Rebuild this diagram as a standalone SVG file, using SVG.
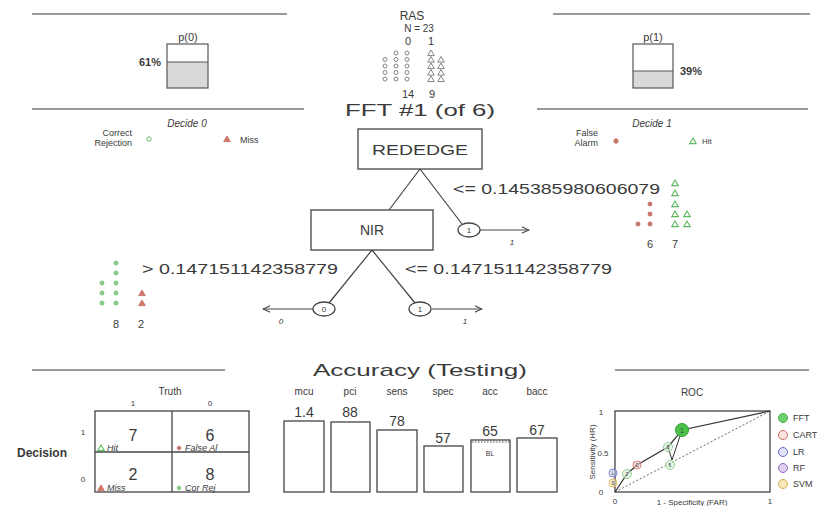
<svg xmlns="http://www.w3.org/2000/svg" width="832" height="506" viewBox="0 0 832 506">
<style>
text{font-family:"Liberation Sans",Arial,sans-serif;fill:#3a3a3a}
.rule{stroke:#777;stroke-width:1.5}
.box{fill:#fff;stroke:#444;stroke-width:1.3}
.edge{stroke:#444;stroke-width:1.2;fill:none}
.ras{fill:none;stroke:#777;stroke-width:0.9}
.g{fill:none;stroke:#6cbd6c;stroke-width:1}
.gf{fill:#8fd08f;stroke:#6cbd6c;stroke-width:0.8}
.rf{fill:#c9776e;stroke:#c0665c;stroke-width:0.8}
.rt{fill:#d8796c;stroke:#c0665c;stroke-width:0.8}
.gt{fill:none;stroke:#5cb85c;stroke-width:1.1}
.bar{fill:#fff;stroke:#444;stroke-width:1.3}
.s9{font-size:9px}
.s10{font-size:10px}
.s11{font-size:11px}
.it{font-style:italic}
</style>
<defs>
<path id="tri" d="M0,-3 L3.3,2.6 L-3.3,2.6 Z"/>
<circle id="dot" r="2"/>
<marker id="ah" viewBox="0 0 10 10" refX="9" refY="5" markerWidth="8" markerHeight="8" orient="auto" markerUnits="userSpaceOnUse">
<path d="M0,1 L9,5 L0,9" fill="none" stroke="#444" stroke-width="1.3"/>
</marker>
</defs>
<rect width="832" height="506" fill="#fff"/>

<!-- section rules -->
<g id="rules">
<line class="rule" x1="32" y1="14" x2="287" y2="14"/>
<line class="rule" x1="553" y1="14" x2="810" y2="14"/>
<line class="rule" x1="32" y1="109" x2="304" y2="109"/>
<line class="rule" x1="537" y1="109" x2="808" y2="109"/>
<line class="rule" x1="32" y1="370" x2="225" y2="370"/>
<line class="rule" x1="615" y1="370" x2="809" y2="370"/>
</g>

<!-- p(0) -->
<g id="p0">
<text x="188" y="41" text-anchor="middle" class="s11">p(0)</text>
<rect x="167" y="62" width="41" height="26" fill="#d9d9d9"/>
<rect x="167" y="44" width="41" height="44" fill="none" stroke="#555" stroke-width="1.2"/>
<line x1="167" y1="62" x2="208" y2="62" stroke="#555" stroke-width="1.2"/>
<text x="161" y="66" text-anchor="end" class="s11" font-weight="bold" fill="#555">61%</text>
</g>

<!-- p(1) -->
<g id="p1">
<text x="653" y="41" text-anchor="middle" class="s11">p(1)</text>
<rect x="633" y="71" width="40" height="17" fill="#d9d9d9"/>
<rect x="633" y="44" width="40" height="44" fill="none" stroke="#555" stroke-width="1.2"/>
<line x1="633" y1="71" x2="673" y2="71" stroke="#555" stroke-width="1.2"/>
<text x="680" y="75" class="s11" font-weight="bold" fill="#555">39%</text>
</g>

<!-- RAS -->
<g id="ras">
<text x="412" y="20" text-anchor="middle" font-size="12">RAS</text>
<text x="419" y="32" text-anchor="middle" class="s10" fill="#555">N = 23</text>
<text x="408" y="45" text-anchor="middle" class="s11" fill="#555">0</text>
<text x="431" y="45" text-anchor="middle" class="s11" fill="#555">1</text>
<g class="ras">
<use href="#dot" x="396" y="53"/><use href="#dot" x="407" y="53"/>
<use href="#dot" x="385" y="59.5"/><use href="#dot" x="396" y="59.5"/><use href="#dot" x="407" y="59.5"/>
<use href="#dot" x="385" y="66"/><use href="#dot" x="396" y="66"/><use href="#dot" x="407" y="66"/>
<use href="#dot" x="385" y="72.5"/><use href="#dot" x="396" y="72.5"/><use href="#dot" x="407" y="72.5"/>
<use href="#dot" x="385" y="79"/><use href="#dot" x="396" y="79"/><use href="#dot" x="407" y="79"/>
<use href="#tri" x="431" y="53"/>
<use href="#tri" x="431" y="59.5"/><use href="#tri" x="441" y="59.5"/>
<use href="#tri" x="431" y="66"/><use href="#tri" x="441" y="66"/>
<use href="#tri" x="431" y="72.5"/><use href="#tri" x="441" y="72.5"/>
<use href="#tri" x="431" y="79"/><use href="#tri" x="441" y="79"/>
</g>
<text x="408" y="98" text-anchor="middle" class="s11" fill="#555">14</text>
<text x="432" y="98" text-anchor="middle" class="s11" fill="#555">9</text>
</g>

<!-- title -->
<text id="title" x="345" y="116" font-size="17" textLength="150" lengthAdjust="spacingAndGlyphs" fill="#222">FFT #1 (of 6)</text>

<!-- Decide 0 legend -->
<g id="decide0">
<text x="187" y="127" text-anchor="middle" class="s10 it" fill="#555">Decide 0</text>
<text x="132" y="136" text-anchor="end" class="s9" fill="#555">Correct</text>
<text x="132" y="146" text-anchor="end" class="s9" fill="#555">Rejection</text>
<circle cx="149" cy="139" r="2.2" class="g"/>
<use href="#tri" x="227" y="139" class="rt"/>
<text x="240" y="143" class="s9" fill="#555">Miss</text>
</g>

<!-- Decide 1 legend -->
<g id="decide1">
<text x="652" y="127" text-anchor="middle" class="s10 it" fill="#555">Decide 1</text>
<text x="598" y="136" text-anchor="end" class="s9" fill="#555">False</text>
<text x="598" y="146" text-anchor="end" class="s9" fill="#555">Alarm</text>
<circle cx="616" cy="141" r="2.2" class="rf"/>
<use href="#tri" x="693" y="141" class="gt"/>
<text x="702" y="144" font-size="8" fill="#555">Hit</text>
</g>

<!-- connectors -->
<g id="connectors">
<line class="edge" x1="420" y1="169" x2="389" y2="210"/>
<line class="edge" x1="420" y1="169" x2="462" y2="224"/>
<line class="edge" x1="372" y1="250" x2="329" y2="303"/>
<line class="edge" x1="372" y1="250" x2="415" y2="303"/>
<line class="edge" x1="480" y1="230" x2="529" y2="230" marker-end="url(#ah)"/>
<line class="edge" x1="313" y1="309" x2="263" y2="309" marker-end="url(#ah)"/>
<line class="edge" x1="432" y1="309" x2="482" y2="309" marker-end="url(#ah)"/>
</g>

<!-- nodes -->
<g id="node-rededge">
<rect class="box" x="358" y="129" width="124" height="40"/>
<text x="372" y="155" font-size="14" textLength="96" lengthAdjust="spacingAndGlyphs">REDEDGE</text>
</g>
<g id="node-nir">
<rect class="box" x="311" y="210" width="122" height="40"/>
<text x="372" y="235" text-anchor="middle" font-size="14">NIR</text>
</g>
<g id="leaf-rededge-1">
<ellipse cx="469" cy="230" rx="11" ry="7" class="box"/>
<text x="469" y="233" text-anchor="middle" font-size="8">1</text>
<text x="512" y="245" text-anchor="middle" font-size="8" class="it">1</text>
</g>
<g id="leaf-nir-0">
<ellipse cx="324" cy="309" rx="11" ry="7" class="box"/>
<text x="324" y="312" text-anchor="middle" font-size="8">0</text>
<text x="281" y="324" text-anchor="middle" font-size="8" class="it">0</text>
</g>
<g id="leaf-nir-1">
<ellipse cx="420" cy="309" rx="11" ry="7" class="box"/>
<text x="420" y="312" text-anchor="middle" font-size="8">1</text>
<text x="465" y="324" text-anchor="middle" font-size="8" class="it">1</text>
</g>

<!-- thresholds -->
<g id="thresholds">
<text x="453" y="194" font-size="15" textLength="207" lengthAdjust="spacingAndGlyphs">&lt;= 0.145385980606079</text>
<text x="142" y="274" font-size="15" textLength="196" lengthAdjust="spacingAndGlyphs">&gt; 0.147151142358779</text>
<text x="405" y="274" font-size="15" textLength="207" lengthAdjust="spacingAndGlyphs">&lt;= 0.147151142358779</text>
</g>

<!-- right leaf counts -->
<g id="counts-right">
<g class="rf">
<circle cx="650" cy="204" r="2"/><circle cx="650" cy="214" r="2"/><circle cx="650" cy="224" r="2"/><circle cx="638" cy="224" r="2"/>
</g>
<g class="gt">
<use href="#tri" x="675" y="183"/><use href="#tri" x="675" y="193"/><use href="#tri" x="675" y="204"/>
<use href="#tri" x="675" y="214"/><use href="#tri" x="687" y="214"/>
<use href="#tri" x="675" y="224"/><use href="#tri" x="687" y="224"/>
</g>
<text x="650" y="248" text-anchor="middle" class="s11" fill="#555">6</text>
<text x="675" y="248" text-anchor="middle" class="s11" fill="#555">7</text>
</g>

<!-- left leaf counts -->
<g id="counts-left">
<g class="gf">
<circle cx="116" cy="263" r="2"/><circle cx="116" cy="273" r="2"/><circle cx="116" cy="283" r="2"/><circle cx="116" cy="293" r="2"/><circle cx="116" cy="303" r="2"/>
<circle cx="102" cy="283" r="2"/><circle cx="102" cy="293" r="2"/><circle cx="102" cy="303" r="2"/>
</g>
<use href="#tri" x="142" y="293" class="rt"/><use href="#tri" x="142" y="303" class="rt"/>
<text x="116" y="328" text-anchor="middle" class="s11" fill="#555">8</text>
<text x="141" y="328" text-anchor="middle" class="s11" fill="#555">2</text>
</g>

<!-- confusion matrix -->
<g id="confusion">
<text x="170" y="395" text-anchor="middle" class="s10">Truth</text>
<text x="133" y="406" text-anchor="middle" font-size="8">1</text>
<text x="210" y="406" text-anchor="middle" font-size="8">0</text>
<text x="42" y="457" text-anchor="middle" font-size="12" font-weight="bold" fill="#555">Decision</text>
<text x="83" y="435" text-anchor="middle" font-size="8">1</text>
<text x="83" y="482" text-anchor="middle" font-size="8">0</text>
<rect x="95" y="411" width="154" height="81" fill="#fff" stroke="#444" stroke-width="1.3"/>
<line x1="172" y1="411" x2="172" y2="492" stroke="#444" stroke-width="1.3"/>
<line x1="95" y1="452" x2="249" y2="452" stroke="#444" stroke-width="1.3"/>
<text x="133" y="441" text-anchor="middle" font-size="16">7</text>
<text x="210" y="441" text-anchor="middle" font-size="16">6</text>
<text x="133" y="480" text-anchor="middle" font-size="16">2</text>
<text x="210" y="480" text-anchor="middle" font-size="16">8</text>
<use href="#tri" x="101" y="448" class="gt"/>
<text x="107" y="451" class="s9 it">Hit</text>
<circle cx="179" cy="448" r="1.8" class="rf"/>
<text x="185" y="451" class="s9 it">False Al</text>
<use href="#tri" x="101" y="488" class="rt"/>
<text x="107" y="491" class="s9 it">Miss</text>
<circle cx="179" cy="488" r="1.8" class="gf"/>
<text x="185" y="491" class="s9 it">Cor Rej</text>
</g>

<!-- accuracy -->
<g id="accuracy">
<text x="313" y="376" font-size="17" textLength="214" lengthAdjust="spacingAndGlyphs" fill="#222">Accuracy (Testing)</text>
<g class="s10" text-anchor="middle" fill="#555">
<text x="304" y="395">mcu</text>
<text x="350" y="395">pci</text>
<text x="397" y="395">sens</text>
<text x="443" y="395">spec</text>
<text x="490" y="395">acc</text>
<text x="537" y="395">bacc</text>
</g>
<rect class="bar" x="284" y="421" width="40" height="71"/>
<rect class="bar" x="331" y="422" width="39" height="70"/>
<rect class="bar" x="377" y="430" width="40" height="62"/>
<rect class="bar" x="424" y="446" width="39" height="46"/>
<rect class="bar" x="471" y="440" width="39" height="52"/>
<rect class="bar" x="517" y="438" width="40" height="54"/>
<line x1="472" y1="442" x2="509" y2="442" stroke="#555" stroke-width="1" stroke-dasharray="1.5,1.5"/>
<text x="490" y="456" text-anchor="middle" font-size="7" fill="#555">BL</text>
<g font-size="14" text-anchor="middle">
<text x="304" y="417">1.4</text>
<text x="350" y="417">88</text>
<text x="397" y="426">78</text>
<text x="443" y="443">57</text>
<text x="490" y="436">65</text>
<text x="537" y="435">67</text>
</g>
</g>

<!-- ROC -->
<g id="roc">
<text x="692" y="396" text-anchor="middle" class="s10">ROC</text>
<rect x="615" y="411" width="155" height="81" fill="#fff" stroke="#444" stroke-width="1.3"/>
<text x="601" y="415" text-anchor="middle" font-size="8">1</text>
<text x="603" y="456" text-anchor="middle" font-size="8">0.5</text>
<text x="601" y="495" text-anchor="middle" font-size="8">0</text>
<text x="615" y="504" text-anchor="middle" font-size="8">0</text>
<text x="770" y="504" text-anchor="middle" font-size="8">1</text>
<text x="692" y="505" text-anchor="middle" font-size="8">1 - Specificity (FAR)</text>
<text transform="translate(595,452) rotate(-90)" text-anchor="middle" font-size="8">Sensitivity (HR)</text>
<line x1="615" y1="492" x2="770" y2="411" stroke="#666" stroke-width="1" stroke-dasharray="2,2"/>
<polyline points="615,492 627,474 637,465 668,447 682,430 770,411" fill="none" stroke="#333" stroke-width="1.2"/>
<polyline points="668,447 672,460 682,430" fill="none" stroke="#333" stroke-width="1"/>
<circle cx="613" cy="473" r="4" fill="#c8c8f0" fill-opacity="0.5" stroke="#6a6ad0" stroke-width="0.8"/>
<circle cx="613" cy="483" r="4" fill="#f3e2b0" fill-opacity="0.6" stroke="#d8b050" stroke-width="0.8"/>
<circle cx="637" cy="465" r="4" fill="#f6d2cf" fill-opacity="0.6" stroke="#d06a60" stroke-width="0.8"/>
<circle cx="627" cy="474" r="4.5" fill="#d7f0d7" fill-opacity="0.6" stroke="#7cc67c" stroke-width="0.8"/>
<circle cx="668" cy="447" r="4.5" fill="#d7f0d7" fill-opacity="0.6" stroke="#7cc67c" stroke-width="0.8"/>
<circle cx="670" cy="465" r="4.5" fill="#d7f0d7" fill-opacity="0.6" stroke="#7cc67c" stroke-width="0.8"/>
<circle cx="682" cy="430" r="6.5" fill="#4cc24c" stroke="#2e9e2e" stroke-width="1"/>
<g font-size="5" text-anchor="middle" fill="#555">
<text x="627" y="476">2</text>
<text x="668" y="449">5</text>
<text x="670" y="467">6</text>
<text x="637" y="467">C</text>
<text x="613" y="475">L</text>
<text x="613" y="485">S</text>
</g>
<text x="682" y="433" font-size="7" text-anchor="middle" fill="#1a5e1a">1</text>
<g font-size="9" fill="#555">
<circle cx="783" cy="418" r="4.5" fill="#6fd06f" stroke="#46b046" stroke-width="1"/>
<text x="793" y="421">FFT</text>
<circle cx="783" cy="435" r="4.5" fill="#fbe3e1" stroke="#d06a60" stroke-width="1"/>
<text x="793" y="438">CART</text>
<circle cx="783" cy="452" r="4.5" fill="#e2e2f8" stroke="#6a6ad0" stroke-width="1"/>
<text x="793" y="455">LR</text>
<circle cx="783" cy="468" r="4.5" fill="#ddd0ee" stroke="#9070c0" stroke-width="1"/>
<text x="793" y="471">RF</text>
<circle cx="783" cy="484" r="4.5" fill="#f6e6b8" stroke="#d8b050" stroke-width="1"/>
<text x="793" y="487">SVM</text>
</g>
</g>
</svg>
